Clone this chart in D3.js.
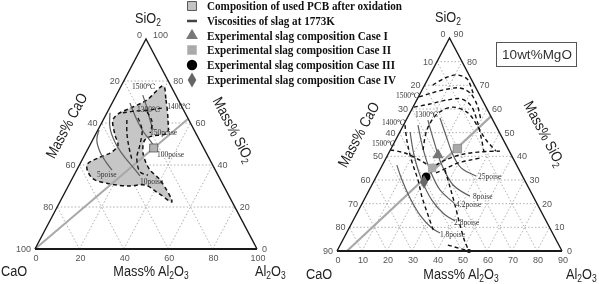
<!DOCTYPE html>
<html>
<head>
<meta charset="utf-8">
<script src="https://cdn.jsdelivr.net/npm/d3@7"></script>
<style>
body { margin: 0; background: #fff; }
svg { display: block; will-change: transform; }
.tick-label { font-family: "Liberation Sans", Arial, sans-serif; font-size: 9px; fill: #555; }
.axis-title { font-family: "Liberation Sans", Arial, sans-serif; font-size: 15px; fill: #222; }
.note { font-family: "Liberation Serif", "DejaVu Serif", serif; font-size: 7.5px; fill: #333; }
.legend-text { font-family: "Liberation Serif", serif; font-size: 11.5px; font-weight: bold; fill: #111; }
</style>
</head>
<body>
<div id="container"></div>
<script>
// every composition is [Al2O3, SiO2] in mass%, CaO is the rest

const leftTicks = [0, 20, 40, 60, 80, 100];
const rightTicks = [0, 10, 20, 30, 40, 50, 60, 70, 80, 90];

const legendLabels = ["Composition of used PCB after oxidation",
    "Viscosities of slag at 1773K",
    "Experimental slag composition Case I",
    "Experimental slag composition Case II",
    "Experimental slag composition Case III",
    "Experimental slag composition Case IV"];

// ---- left diagram (CaO-SiO2-Al2O3)
const leftRegion = [[19, 77.6], [23.5, 71], [29.2, 61.4], [31.9, 55.2], [25.8, 53.8], [23.5, 51.9],
    [25, 47.1], [28.3, 42.4], [33, 37.6], [39.9, 32.9], [50.5, 22.4], [42.1, 26.7], [34.3, 30.5],
    [27.8, 30], [18.3, 31], [8.8, 33.8], [3.4, 40], [6.7, 43.3], [11.6, 46.2], [12.6, 49.5],
    [8.9, 54.3], [4.4, 61.4], [5.3, 64.3], [10.3, 67.6], [15, 71]];

const leftIsotherms = [
    [[7.2, 64.8], [12.1, 65.7], [18.7, 66.2], [23.6, 67.1]],
    [[10.7, 61.4], [13.8, 55.2], [18, 48.6], [22.5, 42.4]],
    [[15.2, 62.4], [19.9, 56.7], [22.5, 49.5], [24.2, 43.3], [29, 36.7], [33.3, 35.2]],
    [[17.9, 65.2], [22.5, 60.5], [24.2, 55.2]]
];

const leftViscosity = [
    [[0.5, 56.7], [1.9, 51.9], [6.2, 46.2], [11.3, 41.4], [15.9, 37.6]],
    [[1.4, 64.8], [5, 57.6], [10.5, 51], [17.2, 44.8], [24.6, 39], [29.9, 34.8]],
    [[8, 69.5], [14.3, 62.4], [20.5, 56.2], [26.8, 51], [32.3, 46.2]],
    [[11.9, 73.3], [16.9, 67.1], [21.1, 61.4], [24.9, 56.7]]
];

const leftNotes = ["1500\u2103", "1300\u2103", "1400\u2103", "150poise", "100poise", "5poise", "10poise"];
const leftNoteAt = [[5.6, 76.2], [13.3, 65.2], [26.2, 66.7], [24.7, 54.3], [33.1, 43.8], [10.8, 34.3], [31.8, 31]];

const leftMixLine = [[0, 0], [38, 62]];
const leftPCB = [29.4, 48.1];

// ---- right diagram (10wt% MgO)
const rightMixLine = [[4, 0], [33.1, 56.9]];
const rightPCB = [26.5, 43.3];
const caseI = [20.1, 40.6];
const caseII = [20.5, 35.1];
const caseIII = [20, 31.3];
const caseIV = [20.2, 29.2];
const baseDot = [52.8, 0];

const rightIsotherms = [
    [[3.3, 70.1], [6.7, 73.1], [10.8, 74.4], [15.7, 72.7], [20, 68], [22.1, 65.5]],
    [[0.3, 65.1], [4.6, 66.8], [9.8, 68.4], [14.8, 68.9], [19.8, 66.8], [25.2, 61.7], [29.9, 55.3]],
    [[0.4, 60.8], [6.1, 62.1], [12.1, 63.8], [17.9, 64.2], [23, 61.3], [28.3, 55.3], [33.5, 48.2], [37.9, 41.8]],
    [[13.1, 42.7], [10.4, 51.1], [11.1, 57.9], [16, 60.8], [23.3, 58.3], [30.2, 52.4], [36.2, 46.9], [42.5, 42.2]],
    [[0, 42.7], [6.5, 41.4], [14, 38.4], [20, 35.9], [24, 38.4], [28.9, 40.6], [35.5, 41.8], [44.1, 42.2]],
    [[23.1, 33], [26.5, 35.1], [29.8, 37.2], [34, 38.4], [37.6, 39.3]],
    [[0.6, 53.2], [5, 46.1], [11.2, 37.6], [17.4, 30], [22.6, 22.8], [28.8, 15.2], [34.8, 8]],
    [[26.1, 34.2], [31.7, 27], [37.5, 19.4], [43.7, 11], [49.3, 3.8], [52.8, 0]],
    [[43.1, 2.5], [52.8, 0]]
];

const rightViscosity = [
    [[13.1, 56.2], [20.1, 47.7], [26.1, 40.6], [32.1, 35.1], [39.8, 31.7]],
    [[8.7, 55.3], [15.8, 46.1], [23.8, 36.3], [32.5, 27.9], [41.6, 23.2]],
    [[5.8, 53.2], [12.6, 43.5], [20.1, 34.2], [28.3, 25.8], [36.7, 20.3]],
    [[4.1, 50.3], [10.5, 40.6], [18.2, 30.8], [27.2, 21.5], [35, 15.6], [40.9, 12.7]],
    [[5.8, 36.3], [11, 30], [18, 22.4], [25.6, 15.2], [33.1, 9.7], [37.4, 7.6]]
];

const rightNotes = ["1500\u2103", "1300\u2103", "1400\u2103", "1500\u2103",
    "25poise", "8poise", "4.2poise", "2.8poise", "1.8poise"];
const rightNoteAt = [[-8.7, 64.6], [2.9, 56.6], [-8.6, 53.2], [-8.2, 44.4],
    [41.2, 30.4], [43.4, 22], [38.3, 18.6], [41.3, 11], [38.2, 5.9]];

// -------------------------------------------------------------

const width = 599;
const height = 284;

const svg = d3.select("#container")
              .append("svg")
              .attr("width", width)
              .attr("height", height);

function makeTernary (max, x0, x1, baseY, apexY) {
    const xScale = d3.scaleLinear().domain([0, max]).range([x0, x1]);
    const yScale = d3.scaleLinear().domain([0, max]).range([baseY, apexY]);
    return d => [xScale(d[0] + d[1] / 2), yScale(d[1])];
}

const pL = makeTernary(100, 35, 257, 249, 39);
const pR = makeTernary(90, 337, 562, 251, 38);

function drawGrid (g, p, max, ticks) {
    const line = d3.line().x(d => p(d)[0]).y(d => p(d)[1]);
    const inner = ticks.filter(v => v > 0 && v < max);
    const segs = [];
    inner.forEach(v => {
        segs.push([[0, v], [max - v, v]]);       // SiO2 const
        segs.push([[v, 0], [v, max - v]]);       // Al2O3 const
        segs.push([[max - v, 0], [0, max - v]]); // CaO const
    });
    g.selectAll(null)
     .data(segs)
     .enter()
     .append("path")
     .attr("d", line)
     .attr("fill", "none")
     .attr("stroke", "#9c9c9c")
     .attr("stroke-width", 0.8)
     .attr("stroke-dasharray", "1.5,2");
}

function drawFrame (g, p, max, ticks, apexShift) {
    const line = d3.line().x(d => p(d)[0]).y(d => p(d)[1]);
    g.append("path")
     .attr("d", line([[0, 0], [0, max], [max, 0]]))
     .attr("fill", "none")
     .attr("stroke", "#1a1a1a")
     .attr("stroke-width", 1.4);
    g.append("path")
     .attr("d", line([[0, 0], [max, 0]]))
     .attr("stroke", "#1a1a1a")
     .attr("stroke-width", 2);

    // CaO along left edge
    g.selectAll(null)
     .data(ticks)
     .enter()
     .append("text")
     .attr("class", "tick-label")
     .attr("text-anchor", "end")
     .attr("x", d => p([0, max - d])[0] - 4)
     .attr("y", d => p([0, max - d])[1] + (d == 0 ? -1 : 3))
     .text(d => d);

    // SiO2 along right edge
    g.selectAll(null)
     .data(ticks)
     .enter()
     .append("text")
     .attr("class", "tick-label")
     .attr("x", d => p([max - d, d])[0] + (d == max ? apexShift : 5))
     .attr("y", d => p([max - d, d])[1] + (d == max ? -1 : 3))
     .text(d => d);

    // Al2O3 along base
    g.selectAll(null)
     .data(ticks)
     .enter()
     .append("text")
     .attr("class", "tick-label")
     .attr("text-anchor", "middle")
     .attr("x", d => p([d, 0])[0] + 1)
     .attr("y", d => p([d, 0])[1] + 12)
     .text(d => d);
}

function drawCurves (g, p, data, dashed) {
    const line = d3.line()
        .x(d => p(d)[0]).y(d => p(d)[1])
        .curve(d3.curveCatmullRom.alpha(0.5));
    g.selectAll(null)
     .data(data)
     .enter()
     .append("path")
     .attr("d", line)
     .attr("fill", "none")
     .attr("stroke", dashed ? "#111" : "#5e5e5e")
     .attr("stroke-width", dashed ? 1.4 : 1.2)
     .attr("stroke-dasharray", dashed ? "4,3" : null);
}

function drawNotes (g, p, notes, at) {
    g.selectAll(null)
     .data(notes)
     .enter()
     .append("text")
     .attr("class", "note")
     .attr("x", (d, i) => p(at[i])[0])
     .attr("y", (d, i) => p(at[i])[1])
     .text(d => d);
}

function drawMark (g, type, pos, size, fill, stroke) {
    g.append("path")
     .attr("d", d3.symbol().type(type).size(size)())
     .attr("transform", "translate(" + pos[0] + "," + pos[1] + ")")
     .attr("fill", fill)
     .attr("stroke", stroke || "none")
     .attr("stroke-width", 0.8);
}

// label with chemical subscripts: parts alternate normal / subscript
function chemLabel (parent, parts, x, y, rot, anchor) {
    const g = parent.append("g")
        .attr("transform", "translate(" + x + "," + y + ") rotate(" + rot + ") scale(0.85,1)");
    const t = g.append("text")
        .attr("class", "axis-title")
        .attr("text-anchor", anchor);
    let down = false;
    parts.forEach((s, i) => {
        if (s === "") return;
        const sub = i % 2 == 1;
        const ts = t.append("tspan").text(s);
        if (sub) {
            ts.attr("font-size", "10px").attr("dy", 3);
            down = true;
        } else if (down) {
            ts.attr("dy", -3);
            down = false;
        }
    });
}

// ---------------- left diagram
const gL = svg.append("g");
drawGrid(gL, pL, 100, leftTicks);

gL.append("path")
  .attr("d", d3.line().x(d => pL(d)[0]).y(d => pL(d)[1])
              .curve(d3.curveCatmullRomClosed.alpha(0.5))(leftRegion))
  .attr("fill", "#c6c6c6")
  .attr("stroke", "#111")
  .attr("stroke-width", 1.5)
  .attr("stroke-dasharray", "4,3");

gL.append("path")
  .attr("d", d3.line().x(d => pL(d)[0]).y(d => pL(d)[1])(leftMixLine))
  .attr("stroke", "#a8a8a8")
  .attr("stroke-width", 2);

drawCurves(gL, pL, leftViscosity, false);
drawCurves(gL, pL, leftIsotherms, true);
drawNotes(gL, pL, leftNotes, leftNoteAt);
drawMark(gL, d3.symbolSquare, pL(leftPCB), 64, "#b4b4b4", "#555");
drawFrame(gL, pL, 100, leftTicks, 7);

// ---------------- right diagram
const gR = svg.append("g");
drawGrid(gR, pR, 90, rightTicks);

gR.append("path")
  .attr("d", d3.line().x(d => pR(d)[0]).y(d => pR(d)[1])(rightMixLine))
  .attr("stroke", "#a8a8a8")
  .attr("stroke-width", 2.2);

drawCurves(gR, pR, rightViscosity, false);
drawCurves(gR, pR, rightIsotherms, true);
drawNotes(gR, pR, rightNotes, rightNoteAt);

drawMark(gR, d3.symbolSquare, pR(rightPCB), 70, "#a9a9a9", "#888");
drawMark(gR, d3.symbolTriangle, pR(caseI), 55, "#777");
drawMark(gR, d3.symbolSquare, pR(caseII), 70, "#aaa");
drawMark(gR, d3.symbolCircle, pR(caseIII), 60, "#000");
drawMark(gR, d3.symbolDiamond, pR(caseIV), 55, "#666");
drawMark(gR, d3.symbolCircle, pR(baseDot), 14, "#000");
drawFrame(gR, pR, 90, rightTicks, 4);

// ---------------- axis titles
chemLabel(svg, ["SiO", "2"], 135, 23, 0, "start");
chemLabel(svg, ["SiO", "2"], 435, 22, 0, "start");
chemLabel(svg, ["CaO"], 1, 276, 0, "start");
chemLabel(svg, ["Mass% Al", "2", "O", "3"], 151, 276, 0, "middle");
chemLabel(svg, ["Al", "2", "O", "3"], 255, 276, 0, "start");
chemLabel(svg, ["CaO"], 306, 279, 0, "start");
chemLabel(svg, ["Mass% Al", "2", "O", "3"], 461, 279, 0, "middle");
chemLabel(svg, ["Al", "2", "O", "3"], 566, 279, 0, "start");

chemLabel(svg, ["Mass% CaO"], 71, 128, -62, "middle");
chemLabel(svg, ["Mass% SiO", "2"], 229, 132, 62, "middle");
chemLabel(svg, ["Mass% CaO"], 363, 137, -62, "middle");
chemLabel(svg, ["Mass% SiO", "2"], 540, 136, 62, "middle");

// ---------------- MgO box
svg.append("rect")
   .attr("x", 496.5).attr("y", 42.5)
   .attr("width", 80).attr("height", 24)
   .attr("fill", "#fff")
   .attr("stroke", "#555");
svg.append("text")
   .attr("x", 537).attr("y", 59)
   .attr("text-anchor", "middle")
   .attr("font-family", "Liberation Sans, Arial, sans-serif")
   .attr("font-size", "13.5px")
   .attr("fill", "#333")
   .text("10wt%MgO");

// ---------------- legend
const legendY = [6, 21, 35.5, 50, 65, 80];
const legendLen = [195, 128, 181, 184, 188, 189];
const lg = svg.append("g");

drawMark(lg, d3.symbolSquare, [192, legendY[0]], 80, "#c4c4c4", "#333");
lg.append("line")
  .attr("x1", 187).attr("x2", 197)
  .attr("y1", legendY[1]).attr("y2", legendY[1])
  .attr("stroke", "#444").attr("stroke-width", 2.5);
drawMark(lg, d3.symbolTriangle, [192, legendY[2]], 60, "#777");
drawMark(lg, d3.symbolSquare, [192, legendY[3]], 90, "#aaa");
drawMark(lg, d3.symbolCircle, [192, legendY[4]], 85, "#000");
drawMark(lg, d3.symbolDiamond, [192, legendY[5]], 65, "#666");

lg.selectAll(null)
  .data(legendLabels)
  .enter()
  .append("text")
  .attr("class", "legend-text")
  .attr("x", 207)
  .attr("y", (d, i) => legendY[i] + 4)
  .attr("textLength", (d, i) => legendLen[i])
  .attr("lengthAdjust", "spacingAndGlyphs")
  .text(d => d);
</script>
</body>
</html>
